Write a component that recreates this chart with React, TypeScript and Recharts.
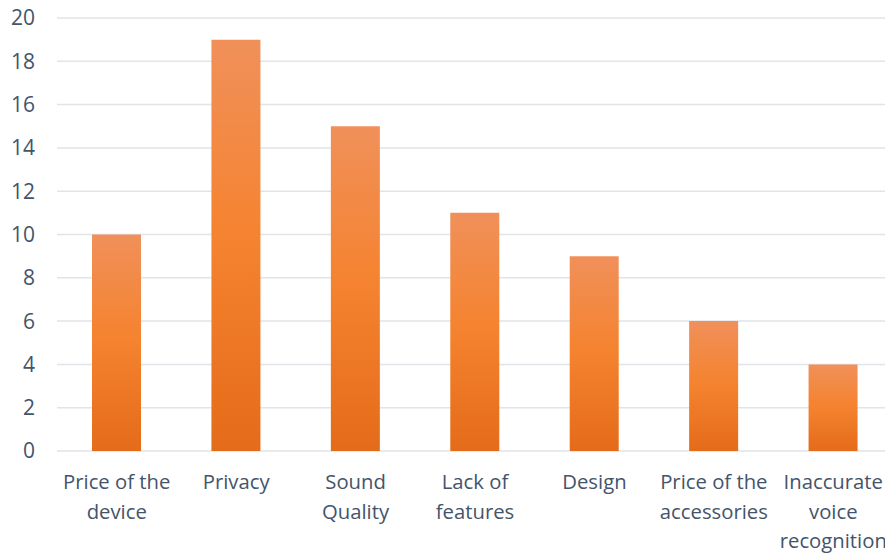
import { Bar, BarChart, CartesianGrid, XAxis, YAxis } from "recharts";

const categories = [
  "Price of the\ndevice",
  "Privacy",
  "Sound\nQuality",
  "Lack of\nfeatures",
  "Design",
  "Price of the\naccessories",
  "Inaccurate\nvoice\nrecognition",
];
const counts = [10, 19, 15, 11, 9, 6, 4];
const yTicks = [0, 2, 4, 6, 8, 10, 12, 14, 16, 18, 20];

const chartData = categories.map((name, i) => ({ name, value: counts[i] }));

const textColor = "#44546A";
const gridColor = "#E1E4E9";
const fontFamily = "'Open Sans', sans-serif";

function CategoryTick(props: any) {
  const { x, y, payload } = props;
  const lines = String(payload.value).split("\n");
  return (
    <text
      x={x}
      y={y}
      textAnchor="middle"
      fill={textColor}
      fontSize={20.3}
      fontFamily={fontFamily}
    >
      {lines.map((line, i) => (
        <tspan key={i} x={x} y={y + 30 + i * 29.5}>
          {line}
        </tspan>
      ))}
    </text>
  );
}

export default function App() {
  return (
    <div style={{ marginLeft: -8, marginTop: -8, background: "#fff" }}>
      <BarChart
        width={893}
        height={555}
        data={chartData}
        margin={{ top: 18, right: 0, bottom: 0, left: 0 }}
        style={{ overflow: "visible" }}
      >
        <defs>
          <linearGradient id="barGrad" x1="0" y1="0" x2="0" y2="1">
            <stop offset="0%" stopColor="#F0905A" />
            <stop offset="48%" stopColor="#F5832F" />
            <stop offset="100%" stopColor="#E46B19" />
          </linearGradient>
        </defs>
        <CartesianGrid vertical={false} stroke={gridColor} strokeWidth={1.5} />
        <XAxis
          dataKey="name"
          interval={0}
          axisLine={false}
          tickLine={false}
          height={104}
          tick={<CategoryTick />}
        />
        <YAxis
          domain={[0, 20]}
          ticks={yTicks}
          axisLine={false}
          tickLine={false}
          width={57}
          tickMargin={16}
          tick={{ fill: textColor, fontSize: 21, fontFamily }}
        />
        <Bar dataKey="value" fill="url(#barGrad)" barSize={49} isAnimationActive={false} />
      </BarChart>
    </div>
  );
}
